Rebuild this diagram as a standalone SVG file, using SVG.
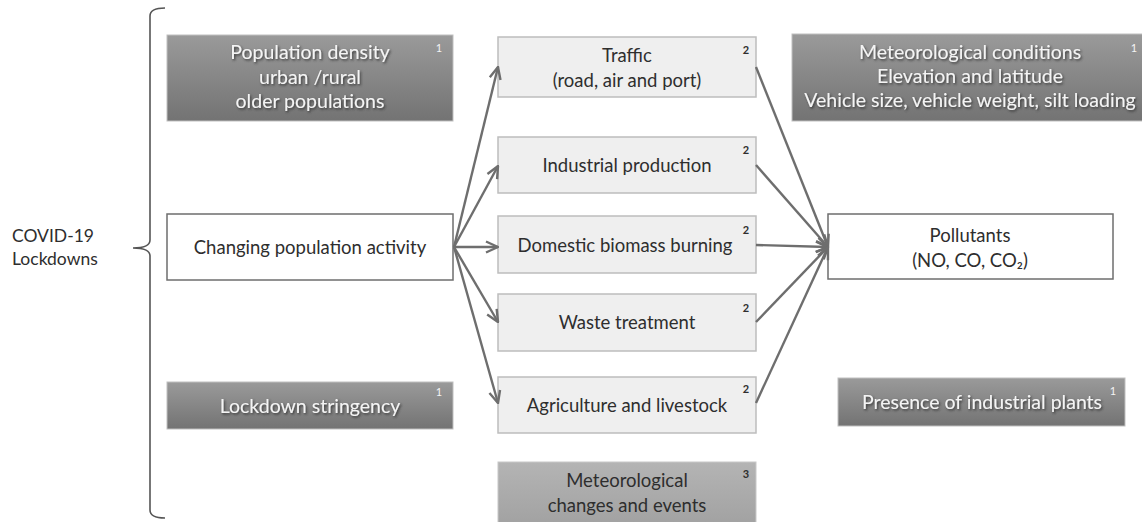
<svg xmlns="http://www.w3.org/2000/svg" width="1142" height="522" viewBox="0 0 1142 522">
<defs>
<linearGradient id="gDark" x1="0" y1="0" x2="0" y2="1">
<stop offset="0" stop-color="#9a9a9a"/><stop offset="1" stop-color="#737373"/>
</linearGradient>
<linearGradient id="gMid" x1="0" y1="0" x2="0" y2="1">
<stop offset="0" stop-color="#b4b4b4"/><stop offset="1" stop-color="#a2a2a2"/>
</linearGradient>
<filter id="sh" x="-10%" y="-30%" width="120%" height="160%">
<feDropShadow dx="1.2" dy="1.5" stdDeviation="0.8" flood-color="#333" flood-opacity="0.9"/>
</filter>
<marker id="ah" viewBox="0 0 14 14" refX="13" refY="7" markerWidth="14" markerHeight="14" markerUnits="userSpaceOnUse" orient="auto">
<path d="M1,1.5 L13,7 L1,12.5" fill="none" stroke="#6e6e6e" stroke-width="2.4" stroke-linejoin="miter"/>
</marker>
</defs>
<style>
text{font-family:Lato,"Open Sans","Liberation Sans",sans-serif;text-anchor:middle}
.dark{fill:url(#gDark);stroke:#bfbfbf;stroke-width:1}
.mid{fill:url(#gMid);stroke:#c8c8c8;stroke-width:1}
.light{fill:#efefef;stroke:#bdbdbd;stroke-width:1.5}
.white{fill:#fff;stroke:#6e6e6e;stroke-width:1.5}
.wt{fill:#f4f4f4;font-size:19.5px;filter:url(#sh)}
.bt{fill:#2e2e2e;font-size:18.5px}
.lt{fill:#2e2e2e;font-size:17.5px;text-anchor:start}
.sw{fill:#f4f4f4;font-size:11px}
.sb{fill:#2e2e2e;font-size:11px;font-weight:bold}
.ln{fill:none;stroke:#6e6e6e;stroke-width:2.4}
</style>

<g id="covid">
<text x="12" y="242" class="lt">COVID-19</text>
<text x="12" y="265" class="lt">Lockdowns</text>
<path d="M165,8 C155,8 150,10 150,16 L150,240 C150,245 145,248 133,248 C145,248 150,251 150,256 L150,510 C150,516 155,518 165,518" fill="none" stroke="#555" stroke-width="1.6"/>
</g>

<g id="popdensity">
<rect x="167" y="35" width="286" height="86" class="dark"/>
<text x="310" y="59" class="wt">Population density</text>
<text x="310" y="84" class="wt">urban /rural</text>
<text x="310" y="108" class="wt">older populations</text>
<text x="439" y="52" class="sw">1</text>
</g>

<g id="changing">
<rect x="167" y="214" width="286" height="66" class="white"/>
<text x="310" y="254" class="bt">Changing population activity</text>
</g>

<g id="stringency">
<rect x="167" y="382" width="286" height="47" class="dark"/>
<text x="310" y="413" class="wt">Lockdown stringency</text>
<text x="439" y="396" class="sw">1</text>
</g>

<g id="traffic">
<rect x="498" y="37" width="258" height="60" class="light"/>
<text x="627" y="62" class="bt">Traffic</text>
<text x="627" y="87" class="bt">(road, air and port)</text>
<text x="746" y="54" class="sb">2</text>
</g>

<g id="industrial">
<rect x="498" y="137" width="258" height="56" class="light"/>
<text x="627" y="172" class="bt">Industrial production</text>
<text x="746" y="154" class="sb">2</text>
</g>

<g id="biomass">
<rect x="498" y="216" width="258" height="57" class="light"/>
<text x="625" y="252" class="bt">Domestic biomass burning</text>
<text x="746" y="234" class="sb">2</text>
</g>

<g id="waste">
<rect x="498" y="294" width="258" height="57" class="light"/>
<text x="627" y="329" class="bt">Waste treatment</text>
<text x="746" y="312" class="sb">2</text>
</g>

<g id="agriculture">
<rect x="498" y="377" width="258" height="56" class="light"/>
<text x="627" y="412" class="bt">Agriculture and livestock</text>
<text x="746" y="393" class="sb">2</text>
</g>

<g id="metchanges">
<rect x="498" y="462" width="258" height="62" class="mid"/>
<text x="627" y="487" class="bt">Meteorological</text>
<text x="627" y="512" class="bt">changes and events</text>
<text x="746" y="478" class="sb">3</text>
</g>

<g id="metconditions">
<rect x="792" y="34" width="352" height="87" class="dark"/>
<text x="970" y="59" class="wt">Meteorological conditions</text>
<text x="970" y="83" class="wt">Elevation and latitude</text>
<text x="970" y="107" class="wt">Vehicle size, vehicle weight, silt loading</text>
<text x="1134" y="52" class="sw">1</text>
</g>

<g id="pollutants">
<rect x="828" y="214" width="285" height="65" class="white"/>
<text x="970" y="242" class="bt">Pollutants</text>
<text x="970" y="267" class="bt">(NO, CO, CO₂)</text>
</g>

<g id="plants">
<rect x="838" y="378" width="287" height="48" class="dark"/>
<text x="982" y="409" class="wt">Presence of industrial plants</text>
<text x="1113" y="395" class="sw">1</text>
</g>

<g id="connectors">
<line x1="454" y1="247" x2="498" y2="67" class="ln" marker-end="url(#ah)"/>
<line x1="454" y1="247" x2="498" y2="166" class="ln" marker-end="url(#ah)"/>
<line x1="454" y1="247" x2="498" y2="247" class="ln" marker-end="url(#ah)"/>
<line x1="454" y1="247" x2="498" y2="322" class="ln" marker-end="url(#ah)"/>
<line x1="454" y1="247" x2="498" y2="403" class="ln" marker-end="url(#ah)"/>
<line x1="756" y1="67" x2="828" y2="247" class="ln" marker-end="url(#ah)"/>
<line x1="756" y1="165" x2="828" y2="247" class="ln" marker-end="url(#ah)"/>
<line x1="756" y1="245" x2="828" y2="247" class="ln" marker-end="url(#ah)"/>
<line x1="756" y1="322" x2="828" y2="247" class="ln" marker-end="url(#ah)"/>
<line x1="756" y1="403" x2="828" y2="247" class="ln" marker-end="url(#ah)"/>
</g>
</svg>
